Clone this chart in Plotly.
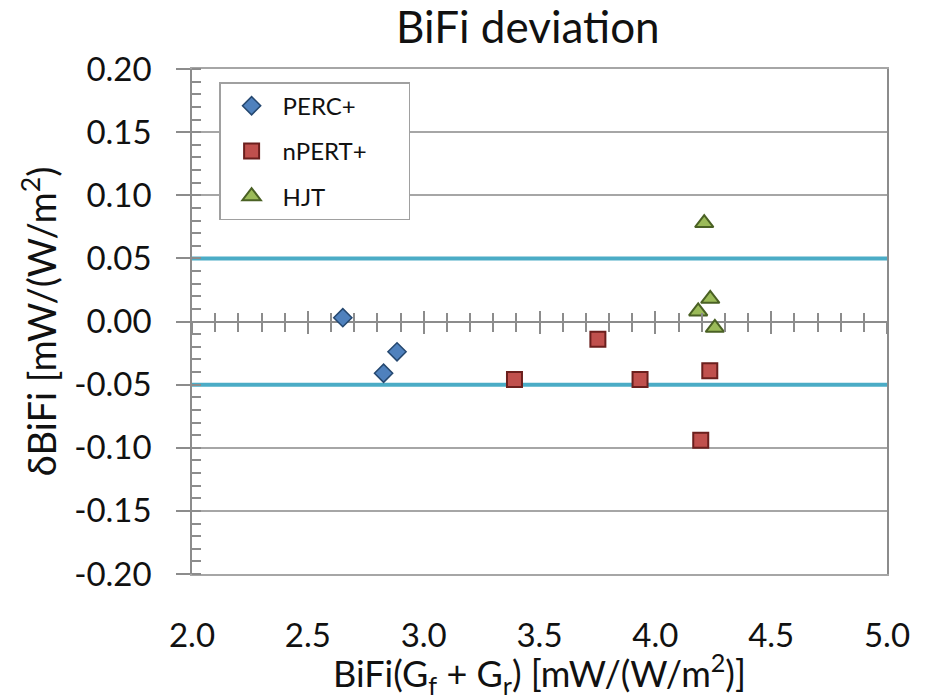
import plotly.graph_objects as go

# ---- data ----
perc_x = [2.651, 2.885, 2.827]
perc_y = [0.003, -0.024, -0.041]
npert_x = [3.392, 3.752, 3.934, 4.196, 4.235]
npert_y = [-0.046, -0.014, -0.046, -0.094, -0.039]
hjt_x = [4.211, 4.237, 4.185, 4.257]
hjt_y = [0.078, 0.018, 0.008, -0.005]
series_names = ["PERC+", "nPERT+", "HJT"]
limits = [0.05, -0.05]
x_range = [2.0, 5.0]
y_range = [-0.20, 0.20]
y_ticks = [-0.20, -0.15, -0.10, -0.05, 0.00, 0.05, 0.10, 0.15, 0.20]
x_ticks = [2.0, 2.5, 3.0, 3.5, 4.0, 4.5, 5.0]

FONT = "Lato"
GRID = "#a6a6a6"
AXIS = "#8c8c8c"
PAD = "\u00a0" * 6  # widens the legend box

fig = go.Figure()

# tolerance limit lines (drawn first so markers sit on top)
for lim in limits:
    fig.add_trace(go.Scatter(x=x_range, y=[lim, lim], mode="lines",
                             line=dict(color="#4bacc6", width=4),
                             showlegend=False, hoverinfo="skip", cliponaxis=False))

fig.add_trace(go.Scatter(
    x=perc_x, y=perc_y, mode="markers", name=series_names[0], legendgroup="a",
    marker=dict(symbol="diamond", size=14, color="#4f81bd",
                line=dict(color="#254870", width=1.5))))
fig.add_trace(go.Scatter(
    x=npert_x, y=npert_y, mode="markers", name=series_names[1] + PAD, legendgroup="b",
    marker=dict(symbol="square", size=15, color="#c0504d",
                line=dict(color="#6b1f1d", width=2))))
fig.add_trace(go.Scatter(
    x=hjt_x, y=hjt_y, mode="markers", name=series_names[2], legendgroup="c",
    marker=dict(symbol="triangle-up", size=16, color="#9bbb59",
                line=dict(color="#4a6124", width=2))))

# dummy traces to realise the zero-line axes
fig.add_trace(go.Scatter(x=[None], y=[None], xaxis="x2", yaxis="y",
                         showlegend=False, hoverinfo="skip"))
fig.add_trace(go.Scatter(x=[None], y=[None], xaxis="x3", yaxis="y",
                         showlegend=False, hoverinfo="skip"))

zero_pos = (0 - y_range[0]) / (y_range[1] - y_range[0])

common_zero = dict(range=x_range, overlaying="x", anchor="free", position=zero_pos,
                   showticklabels=False, showgrid=False, zeroline=False,
                   tickvals=x_ticks, tickcolor=AXIS, tickwidth=1.5,
                   showline=False)

fig.update_layout(
    width=926, height=700,
    margin=dict(l=192, r=39, t=69, b=126),
    paper_bgcolor="white", plot_bgcolor="white",
    font=dict(family=FONT, color="#000000"),
    title=dict(text="BiFi deviation", x=0.57, xanchor="center", y=0.96, yanchor="middle",
               font=dict(size=44, family=FONT, color="#111111")),
    showlegend=True,
    legend=dict(x=0.039, y=0.974, xanchor="left", yanchor="top",
                bordercolor="#a0a0a0", borderwidth=1.5, bgcolor="white",
                font=dict(size=24, family=FONT, color="#111111"),
                tracegroupgap=11, itemwidth=52),
    xaxis=dict(range=x_range, tickvals=x_ticks, ticktext=[f"{v:.1f}" for v in x_ticks],
               showgrid=False, zeroline=False,
               showline=True, linecolor=GRID, linewidth=1.5, mirror=True,
               ticks="", ticklabelstandoff=32,
               tickfont=dict(size=33, family=FONT, color="#111111"),
               title=dict(text="BiFi(G<sub>f</sub> + G<sub>r</sub>) [mW/(W/m<sup>2</sup>)]",
                          font=dict(size=36, family=FONT, color="#111111"), standoff=6)),
    xaxis2=dict(**common_zero, ticks="outside", ticklen=11,
                minor=dict(ticks="outside", ticklen=9, dtick=0.1, tickcolor=AXIS, tickwidth=1.5)),
    xaxis3=dict(**common_zero, ticks="inside", ticklen=11,
                minor=dict(ticks="inside", ticklen=9, dtick=0.1, tickcolor=AXIS, tickwidth=1.5)),
    yaxis=dict(range=y_range, tickvals=y_ticks, ticktext=[f"{v:.2f}" for v in y_ticks],
               showgrid=True, gridcolor=GRID, gridwidth=1.5,
               zeroline=True, zerolinecolor=AXIS, zerolinewidth=1.5,
               showline=True, linecolor=AXIS, linewidth=1.5, mirror=True,
               ticks="outside", ticklen=14, tickcolor=AXIS, tickwidth=1.5,
               minor=dict(ticks="inside", ticklen=9, dtick=0.01, tickcolor=AXIS, tickwidth=1.5),
               ticklabelstandoff=18,
               tickfont=dict(size=33, family=FONT, color="#111111"),
               title=dict(text="δBiFi [mW/(W/m<sup>2</sup>)",
                          font=dict(size=38, family=FONT, color="#111111"), standoff=6)),
)

fig.write_html("out.html")
